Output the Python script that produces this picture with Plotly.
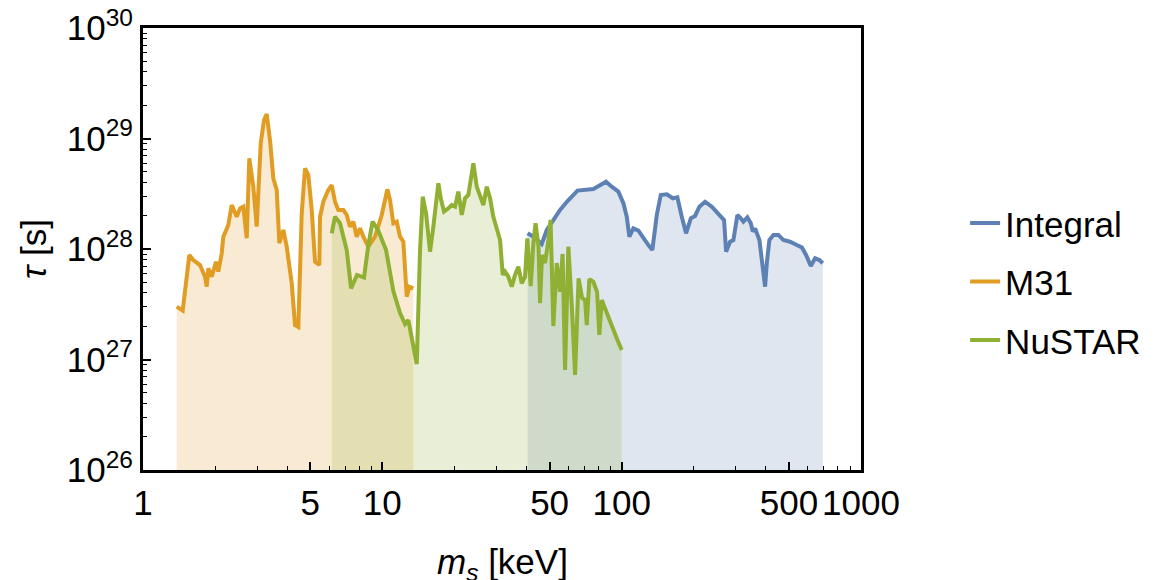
import plotly.graph_objects as go
import numpy as np

# ---- data (log10 of m_s [keV] and log10 of tau [s]) ----
integral_log_m = [1.6068, 1.6310, 1.6661, 1.6870, 1.7146, 1.7426, 1.7739, 1.8157, 1.8818, 1.9098,
                  1.9348, 1.9586, 1.9862, 2.0071, 2.0213, 2.0322, 2.0489, 2.0698, 2.0907, 2.1116,
                  2.1283, 2.1467, 2.1634, 2.1885, 2.2135, 2.2328, 2.2512, 2.2691, 2.2888, 2.3067,
                  2.3247, 2.3485, 2.3765, 2.4041, 2.4279, 2.4363, 2.4530, 2.4668, 2.4835, 2.4977,
                  2.5086, 2.5253, 2.5395, 2.5479, 2.5575, 2.5755, 2.5897, 2.5993, 2.6064, 2.6173,
                  2.6340, 2.6549, 2.6758, 2.7036, 2.7316, 2.7526, 2.7705, 2.7902, 2.8082, 2.8262,
                  2.8404]
integral_log_tau = [28.142, 28.111, 28.045, 28.172, 28.262, 28.353, 28.434, 28.529, 28.543, 28.579,
                    28.609, 28.564, 28.519, 28.414, 28.292, 28.111, 28.187, 28.166, 28.097, 28.036,
                    27.991, 28.308, 28.489, 28.495, 28.459, 28.468, 28.292, 28.142, 28.278, 28.299,
                    28.383, 28.428, 28.383, 28.323, 28.262, 27.976, 28.066, 28.081, 28.308, 28.278,
                    28.247, 28.287, 28.233, 28.157, 28.187, 28.081, 27.840, 27.659, 27.871, 28.081,
                    28.127, 28.127, 28.081, 28.066, 28.036, 28.015, 27.946, 27.846, 27.916, 27.900,
                    27.871]

m31_log_m = [0.1408, 0.1659, 0.1935, 0.2102, 0.2382, 0.2591, 0.2662, 0.2729, 0.2871, 0.3051,
             0.3147, 0.3289, 0.3356, 0.3565, 0.3707, 0.3916, 0.4054, 0.4191, 0.4334, 0.4442,
             0.4609, 0.4751, 0.4919, 0.5056, 0.5169, 0.5307, 0.5445, 0.5587, 0.5696, 0.5863,
             0.6005, 0.6214, 0.6352, 0.6490, 0.6632, 0.6770, 0.6908, 0.7050, 0.7188, 0.7367,
             0.7397, 0.7534, 0.7743, 0.7886, 0.8023, 0.8161, 0.8370, 0.8512, 0.8650, 0.8788,
             0.8930, 0.9068, 0.9206, 0.9415, 0.9695, 0.9975, 1.0209, 1.0322, 1.0460, 1.0602,
             1.0740, 1.0878, 1.1020, 1.1128, 1.1296]
m31_log_tau = [27.478, 27.442, 27.946, 27.900, 27.855, 27.749, 27.659, 27.825, 27.749, 27.885,
               27.795, 27.961, 28.111, 28.217, 28.398, 28.292, 28.368, 28.383, 28.097, 28.821,
               28.564, 28.202, 28.957, 29.167, 29.222, 28.986, 28.640, 28.534, 28.052, 28.172,
               28.021, 27.690, 27.312, 27.294, 28.323, 28.730, 28.670, 28.353, 27.885, 27.855,
               28.292, 28.428, 28.534, 28.579, 28.428, 28.353, 28.353, 28.308, 28.202, 28.247,
               28.111, 28.187, 28.111, 28.021, 28.111, 28.308, 28.540, 28.443, 28.233, 28.247,
               28.111, 28.066, 27.568, 27.659, 27.644]

nustar_log_m = [0.7886, 0.8023, 0.8232, 0.8512, 0.8692, 0.8943, 0.9235, 0.9415, 0.9590, 0.9820,
                1.0155, 1.0460, 1.0740, 1.0949, 1.1087, 1.1229, 1.1438, 1.1576, 1.1688, 1.1826,
                1.1993, 1.2131, 1.2340, 1.2441, 1.2578, 1.2758, 1.2900, 1.3038, 1.3176, 1.3318,
                1.3456, 1.3594, 1.3694, 1.3803, 1.3945, 1.4083, 1.4221, 1.4363, 1.4501, 1.4638,
                1.4781, 1.4919, 1.5031, 1.5128, 1.5265, 1.5408, 1.5545, 1.5683, 1.5825, 1.5963,
                1.6059, 1.6201, 1.6310, 1.6402, 1.6527, 1.6590, 1.6674, 1.6799, 1.6937, 1.7029,
                1.7146, 1.7288, 1.7426, 1.7531, 1.7635, 1.7773, 1.7915, 1.8053, 1.8199, 1.8345,
                1.8471, 1.8542, 1.8650, 1.8818, 1.8972, 1.9068, 1.9168, 1.9377, 1.9586, 1.9795,
                2.0000]
nustar_log_tau = [28.142, 28.292, 28.233, 27.991, 27.644, 27.765, 27.742, 28.036, 28.247, 28.172,
                  27.991, 27.620, 27.421, 27.321, 27.357, 27.176, 26.959, 27.991, 28.473, 28.323,
                  27.976, 28.202, 28.595, 28.459, 28.338, 28.368, 28.398, 28.383, 28.519, 28.308,
                  28.459, 28.489, 28.654, 28.776, 28.564, 28.489, 28.398, 28.564, 28.459, 28.292,
                  28.199, 28.081, 27.765, 27.795, 27.749, 27.659, 27.765, 27.840, 27.690, 27.749,
                  28.097, 27.665, 28.052, 28.233, 28.021, 27.509, 27.946, 27.873, 28.081, 28.262,
                  27.303, 27.873, 27.614, 27.955, 26.905, 28.021, 27.493, 26.860, 27.735, 27.557,
                  27.538, 27.312, 27.728, 27.704, 27.611, 27.222, 27.538, 27.418, 27.297, 27.192,
                  27.086]

series_names = ["Integral", "M31", "NuSTAR"]
series_colors = ["#5E81B5", "#E19C24", "#8FB032"]
fill_colors = ["rgba(94,129,181,0.2)", "rgba(225,156,36,0.2)", "rgba(143,176,50,0.2)"]

x_tick_vals = [1, 5, 10, 50, 100, 500, 1000]
x_tick_text = ["1", "5", "10", "50", "100", "500", "1000"]
y_tick_vals = [1e26, 1e27, 1e28, 1e29, 1e30]
y_tick_text = ["10<sup>26</sup>", "10<sup>27</sup>", "10<sup>28</sup>", "10<sup>29</sup>", "10<sup>30</sup>"]

data = [
    (np.power(10.0, integral_log_m), np.power(10.0, integral_log_tau)),
    (np.power(10.0, m31_log_m), np.power(10.0, m31_log_tau)),
    (np.power(10.0, nustar_log_m), np.power(10.0, nustar_log_tau)),
]

FONT = "Liberation Sans, Arial, Helvetica, sans-serif"
FS = 35
fig = go.Figure()

# fills first (under all lines)
for (xv, yv), fc in zip(data, fill_colors):
    fig.add_trace(go.Scatter(x=xv, y=yv, mode="lines", line=dict(width=0, color=fc),
                             fill="tozeroy", fillcolor=fc, showlegend=False, hoverinfo="skip"))

for i, ((xv, yv), name, col) in enumerate(zip(data, series_names, series_colors)):
    fig.add_trace(go.Scatter(x=xv, y=yv, mode="lines", name=name, legendgroup=name,
                             line=dict(width=4, color=col)))

minor_x = [v * d for d in [1, 10, 100] for v in [2, 3, 4, 6, 7, 8, 9]]
minor_y = [m * 10.0 ** e for e in range(26, 30) for m in range(2, 10)]

fig.update_layout(
    width=1162, height=580,
    margin=dict(l=143, r=301, t=28, b=110, autoexpand=False),
    paper_bgcolor="white", plot_bgcolor="white",
    font=dict(family=FONT, size=FS, color="black"),
    showlegend=True,
    legend=dict(x=1.145, y=0.625, xanchor="left", yanchor="top",
                font=dict(size=FS, color="black"), tracegroupgap=10,
                bgcolor="rgba(0,0,0,0)"),
    xaxis=dict(type="log", range=[0, 3], tickmode="array", tickvals=x_tick_vals,
               ticktext=x_tick_text, ticks="inside", ticklen=8, tickwidth=1.5,
               tickcolor="black", showgrid=False, zeroline=False, automargin=False,
               showline=True, linewidth=3, linecolor="black", mirror=True,
               tickfont=dict(size=FS), ticklabelstandoff=0,
               minor=dict(tickvals=minor_x, ticks="inside", ticklen=4, tickwidth=1,
                          tickcolor="black", showgrid=False)),
    yaxis=dict(type="log", range=[26, 30], tickmode="array", tickvals=y_tick_vals,
               ticktext=y_tick_text, ticks="inside", ticklen=8, tickwidth=1.5,
               tickcolor="black", showgrid=False, zeroline=False, automargin=False,
               showline=True, linewidth=3, linecolor="black", mirror=True,
               tickfont=dict(size=FS),
               minor=dict(tickvals=minor_y, ticks="inside", ticklen=4, tickwidth=1,
                          tickcolor="black", showgrid=False),
               title=dict(text="<i>τ</i> [s]", font=dict(size=FS), standoff=10)),
    annotations=[dict(text="<i>m</i><sub><i>s</i></sub> [keV]", xref="paper", yref="paper",
                      x=0.5, y=-0.212, xanchor="center", yanchor="middle", showarrow=False,
                      font=dict(size=FS, color="black"))],
)

fig.write_html("out.html", config={"displayModeBar": False},
               post_script="document.body.style.margin='0';")
